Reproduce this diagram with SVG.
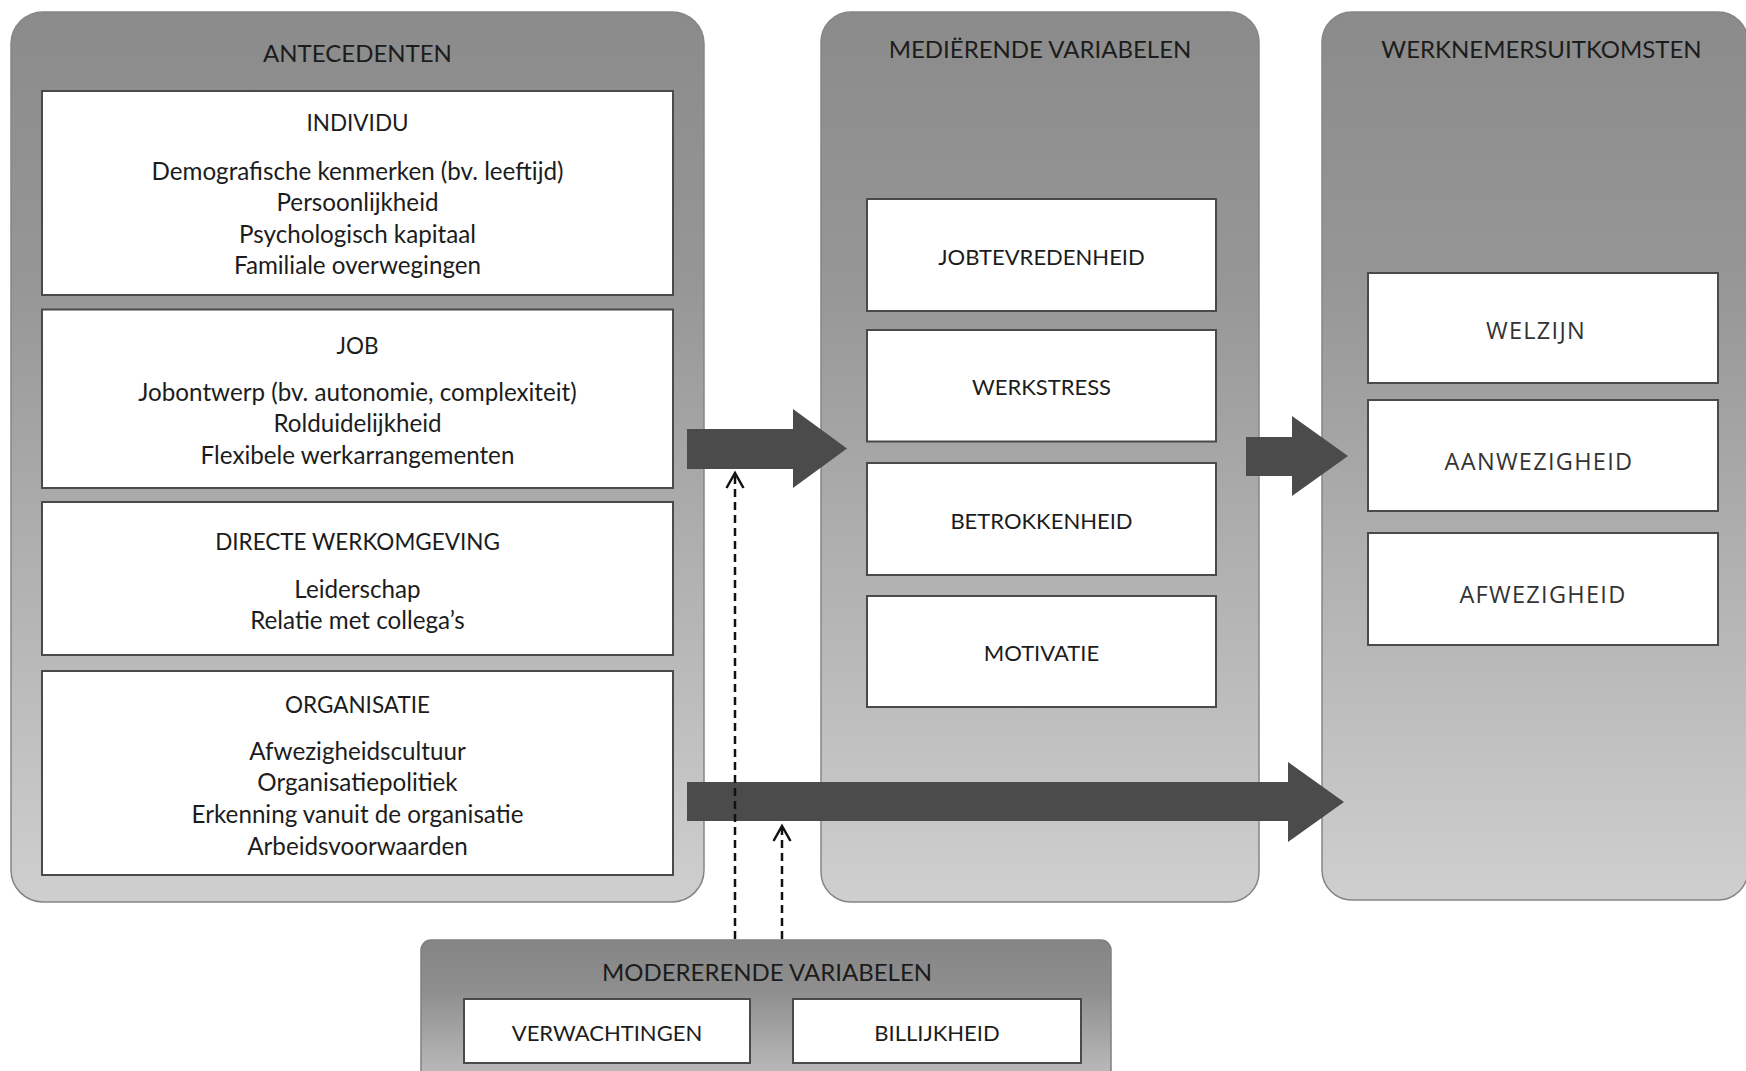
<svg xmlns="http://www.w3.org/2000/svg" width="1746" height="1071" viewBox="0 0 1746 1071">
  <style>
    .panel { fill: url(#panelGrad); stroke: #858585; stroke-width: 1.5; }
    .modpanel { fill: url(#modGrad); stroke: #808080; stroke-width: 1.5; }
    .box { fill: #ffffff; stroke: #4a4a4a; stroke-width: 2; }
    text { font-family: Lato, "Open Sans", "Liberation Sans", sans-serif; fill: #1c1c1c; text-anchor: middle; dominant-baseline: central; }
    .ptitle { font-size: 24px; }
    .stitle { font-size: 22.5px; }
    .body { font-size: 24.2px; }
    .mid { font-size: 22px; }
    .modtitle { font-size: 24px; }
    .out { font-family: "Open Sans", "Liberation Sans", sans-serif; font-size: 23.5px; letter-spacing: 1.3px; fill: #333333; }
    .bigarrow { fill: #4b4b4b; }
    .dash { stroke: #111111; stroke-width: 2.5; stroke-dasharray: 8 5; fill: none; }
  </style>
  <defs>
    <linearGradient id="panelGrad" x1="0" y1="0" x2="0" y2="1">
      <stop offset="0" stop-color="#8b8b8b"/>
      <stop offset="0.3" stop-color="#969696"/>
      <stop offset="1" stop-color="#cfcfcf"/>
    </linearGradient>
    <linearGradient id="modGrad" x1="0" y1="0" x2="0" y2="1">
      <stop offset="0" stop-color="#858585"/>
      <stop offset="0.35" stop-color="#8f8f8f"/>
      <stop offset="1" stop-color="#c2c2c2"/>
    </linearGradient>
    <marker id="chevron" viewBox="-18 -11 20 22" refX="0" refY="0" markerWidth="20" markerHeight="22" markerUnits="userSpaceOnUse" orient="auto" overflow="visible">
      <path d="M -15 -8.5 L 0 0 L -15 8.5" fill="none" stroke="#111111" stroke-width="2.5" stroke-dasharray="none"/>
    </marker>
  </defs>

  <rect width="1746" height="1071" fill="#ffffff"/>

  <!-- Antecedenten panel -->
  <g id="antecedenten">
    <rect class="panel" x="11" y="12" width="693" height="890" rx="32" ry="32"/>
    <text class="ptitle" x="357.5" y="52">ANTECEDENTEN</text>
  </g>
  <g id="individu">
    <rect class="box" x="42" y="91" width="631" height="204"/>
    <text class="stitle" x="357.5" y="122.5">INDIVIDU</text>
    <text class="body" x="357.5" y="170">Demografische kenmerken (bv. leeftijd)</text>
    <text class="body" x="357.5" y="201.5">Persoonlijkheid</text>
    <text class="body" x="357.5" y="233">Psychologisch kapitaal</text>
    <text class="body" x="357.5" y="264">Familiale overwegingen</text>
  </g>
  <g id="job">
    <rect class="box" x="42" y="309.5" width="631" height="178.5"/>
    <text class="stitle" x="357.5" y="345">JOB</text>
    <text class="body" x="357.5" y="391">Jobontwerp (bv. autonomie, complexiteit)</text>
    <text class="body" x="357.5" y="422">Rolduidelijkheid</text>
    <text class="body" x="357.5" y="454">Flexibele werkarrangementen</text>
  </g>
  <g id="directe-werkomgeving">
    <rect class="box" x="42" y="502" width="631" height="153"/>
    <text class="stitle" x="357.5" y="541">DIRECTE WERKOMGEVING</text>
    <text class="body" x="357.5" y="588">Leiderschap</text>
    <text class="body" x="357.5" y="619">Relatie met collega’s</text>
  </g>
  <g id="organisatie">
    <rect class="box" x="42" y="671" width="631" height="204"/>
    <text class="stitle" x="357.5" y="704">ORGANISATIE</text>
    <text class="body" x="357.5" y="750.5">Afwezigheidscultuur</text>
    <text class="body" x="357.5" y="781.5">Organisatiepolitiek</text>
    <text class="body" x="357.5" y="813">Erkenning vanuit de organisatie</text>
    <text class="body" x="357.5" y="845">Arbeidsvoorwaarden</text>
  </g>

  <!-- Mediërende variabelen panel -->
  <g id="medierende-variabelen">
    <rect class="panel" x="821" y="12" width="438" height="890" rx="30" ry="30"/>
    <text class="ptitle" x="1040" y="48">MEDIËRENDE VARIABELEN</text>
  </g>
  <g id="jobtevredenheid">
    <rect class="box" x="867" y="199" width="349" height="112"/>
    <text class="mid" x="1041.5" y="256">JOBTEVREDENHEID</text>
  </g>
  <g id="werkstress">
    <rect class="box" x="867" y="330" width="349" height="111.5"/>
    <text class="mid" x="1041.5" y="386">WERKSTRESS</text>
  </g>
  <g id="betrokkenheid">
    <rect class="box" x="867" y="463" width="349" height="112"/>
    <text class="mid" x="1041.5" y="520">BETROKKENHEID</text>
  </g>
  <g id="motivatie">
    <rect class="box" x="867" y="596" width="349" height="111"/>
    <text class="mid" x="1041.5" y="652.5">MOTIVATIE</text>
  </g>

  <!-- Werknemersuitkomsten panel -->
  <g id="werknemersuitkomsten">
    <rect class="panel" x="1322" y="12" width="426" height="888" rx="30" ry="30"/>
    <text class="ptitle" x="1541.5" y="48">WERKNEMERSUITKOMSTEN</text>
  </g>
  <g id="welzijn">
    <rect class="box" x="1368" y="273" width="350" height="110"/>
    <text class="out" x="1536" y="330">WELZIJN</text>
  </g>
  <g id="aanwezigheid">
    <rect class="box" x="1368" y="400" width="350" height="111"/>
    <text class="out" x="1539" y="461">AANWEZIGHEID</text>
  </g>
  <g id="afwezigheid">
    <rect class="box" x="1368" y="533" width="350" height="112"/>
    <text class="out" x="1543" y="593.5">AFWEZIGHEID</text>
  </g>

  <!-- Modererende variabelen panel -->
  <g id="modererende-variabelen">
    <rect class="modpanel" x="421" y="940" width="690" height="150" rx="10" ry="10"/>
    <text class="modtitle" x="767" y="971">MODERERENDE VARIABELEN</text>
  </g>
  <g id="verwachtingen">
    <rect class="box" x="464" y="999" width="286" height="64"/>
    <text class="mid" x="607" y="1032">VERWACHTINGEN</text>
  </g>
  <g id="billijkheid">
    <rect class="box" x="793" y="999" width="288" height="64"/>
    <text class="mid" x="937" y="1032">BILLIJKHEID</text>
  </g>

  <!-- Connectors -->
  <g id="connectors">
    <polygon class="bigarrow" points="687,429 793,429 793,409 847,448.5 793,488 793,469 687,469"/>
    <polygon class="bigarrow" points="1246,437 1292,437 1292,416 1348,456 1292,496 1292,476 1246,476"/>
    <polygon class="bigarrow" points="687,782 1288,782 1288,762 1344,802 1288,842 1288,821 687,821"/>
    <line class="dash" x1="735" y1="939" x2="735" y2="473" marker-end="url(#chevron)"/>
    <line class="dash" x1="782" y1="939" x2="782" y2="826" marker-end="url(#chevron)"/>
  </g>
</svg>
